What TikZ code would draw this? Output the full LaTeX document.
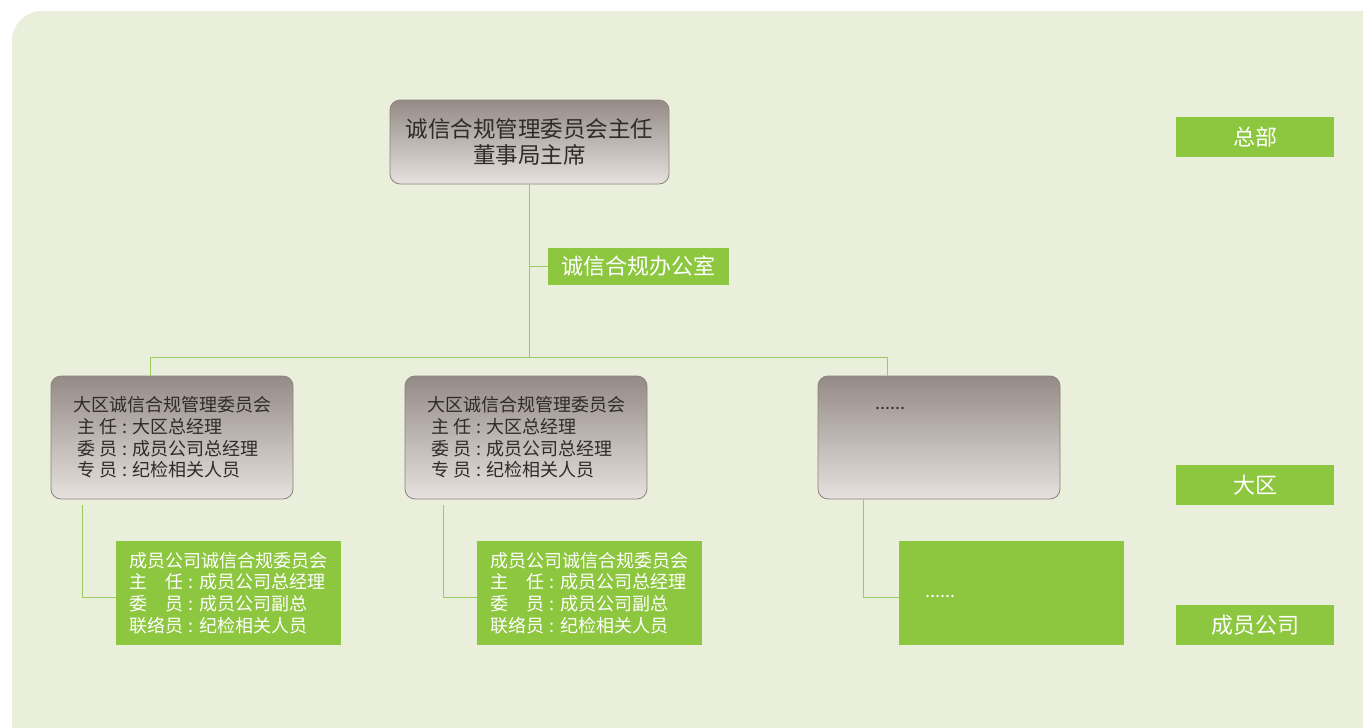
\documentclass[tikz,border=0pt]{standalone}
\usepackage{fontspec}
\setmainfont{Noto Sans CJK SC}
\definecolor{bgc}{HTML}{EAEFDC}
\definecolor{leaf}{HTML}{8DC63F}
\definecolor{lineg}{HTML}{9BCB5C}
\definecolor{graytop}{HTML}{958B86}
\definecolor{graymid}{HTML}{B8AFAB}
\definecolor{graybot}{HTML}{E6E1DE}
\definecolor{boxedge}{HTML}{8C817C}
\definecolor{darktext}{HTML}{2E2B2A}
\newcommand{\colsep}{\hspace{0.3em}:\hspace{0.3em}}
\begin{document}
\begin{tikzpicture}[x=1pt,y=-1pt,
  graybox/.style={draw=boxedge, line width=0.8pt, rounded corners=10pt,
    top color=graytop, middle color=graymid, bottom color=graybot,
    text=darktext, align=left, inner sep=0pt},
  greenbox/.style={fill=leaf, text=white, align=left, inner sep=0pt},
  sidelabel/.style={fill=leaf, text=white, minimum width=158pt, minimum height=40pt,
    inner sep=0pt, font=\fontsize{22}{24}\selectfont},
  conn/.style={draw=lineg, line width=0.9pt},
  boxfont/.style={font=\fontsize{18}{21.7}\selectfont}
]
\useasboundingbox (0,0) rectangle (1363,728);
\clip (0,0) rectangle (1363,728);
\fill[bgc, rounded corners=30pt] (12,11) rectangle (1420,780);

% top
\node[graybox, minimum width=279pt, minimum height=84pt, align=center,
  font=\fontsize{22.5}{26}\selectfont] (top) at (529.5,142) {诚信合规管理委员会主任\\董事局主席};
\node[greenbox, minimum width=181pt, minimum height=37pt,
  font=\fontsize{22}{24}\selectfont] (office) at (638.5,266.5) {诚信合规办公室};

% regional boxes
\node[graybox, boxfont, minimum width=242pt, minimum height=123pt] (r1) at (172,437.5)
  {大区诚信合规管理委员会\\\ 主 任\colsep 大区总经理\\\ 委 员\colsep 成员公司总经理\\\ 专 员\colsep 纪检相关人员};
\node[graybox, boxfont, minimum width=242pt, minimum height=123pt] (r2) at (526,437.5)
  {大区诚信合规管理委员会\\\ 主 任\colsep 大区总经理\\\ 委 员\colsep 成员公司总经理\\\ 专 员\colsep 纪检相关人员};
\node[graybox, minimum width=242pt, minimum height=123pt] (r3) at (939,437.5) {};
\node[text=darktext, font=\fontsize{18}{20}\selectfont, anchor=west, inner sep=0pt] (r3t) at (875,408) {......};

% member boxes
\node[greenbox, boxfont, minimum width=225pt, minimum height=104pt] (m1) at (228.5,593)
  {成员公司诚信合规委员会\\\makebox[3em][s]{主\hfill 任}\colsep 成员公司总经理\\\makebox[3em][s]{委\hfill 员}\colsep 成员公司副总\\联络员\colsep 纪检相关人员};
\node[greenbox, boxfont, minimum width=225pt, minimum height=104pt] (m2) at (589.5,593)
  {成员公司诚信合规委员会\\\makebox[3em][s]{主\hfill 任}\colsep 成员公司总经理\\\makebox[3em][s]{委\hfill 员}\colsep 成员公司副总\\联络员\colsep 纪检相关人员};
\node[greenbox, minimum width=225pt, minimum height=104pt] (m3) at (1011.5,593) {};
\node[text=white, font=\fontsize{18}{20}\selectfont, anchor=west, inner sep=0pt] (m3t) at (925,596) {......};

% side labels
\node[sidelabel] (hq) at (1255,137) {总部};
\node[sidelabel] (region) at (1255,485) {大区};
\node[sidelabel] (member) at (1255,625) {成员公司};

% connectors
\coordinate (j0) at (529,357);
\coordinate (jl) at (150,357);
\coordinate (jr) at (887,357);
\draw[conn] (top.south -| j0) -- (j0);
\draw[conn] (office.west) -- (office.west -| j0);
\draw[conn] (jl) -- (jr);
\draw[conn] (jl) -- (jl |- r1.north);
\draw[conn] (jr) -- (jr |- r3.north);

\coordinate (a1) at (82,505);
\coordinate (a2) at (443,505);
\coordinate (a3) at (863,499);
\draw[conn] (a1) |- (m1.west |- 0,597);
\draw[conn] (a2) |- (m2.west |- 0,597);
\draw[conn] (a3) |- (m3.west |- 0,597);
\end{tikzpicture}
\end{document}
